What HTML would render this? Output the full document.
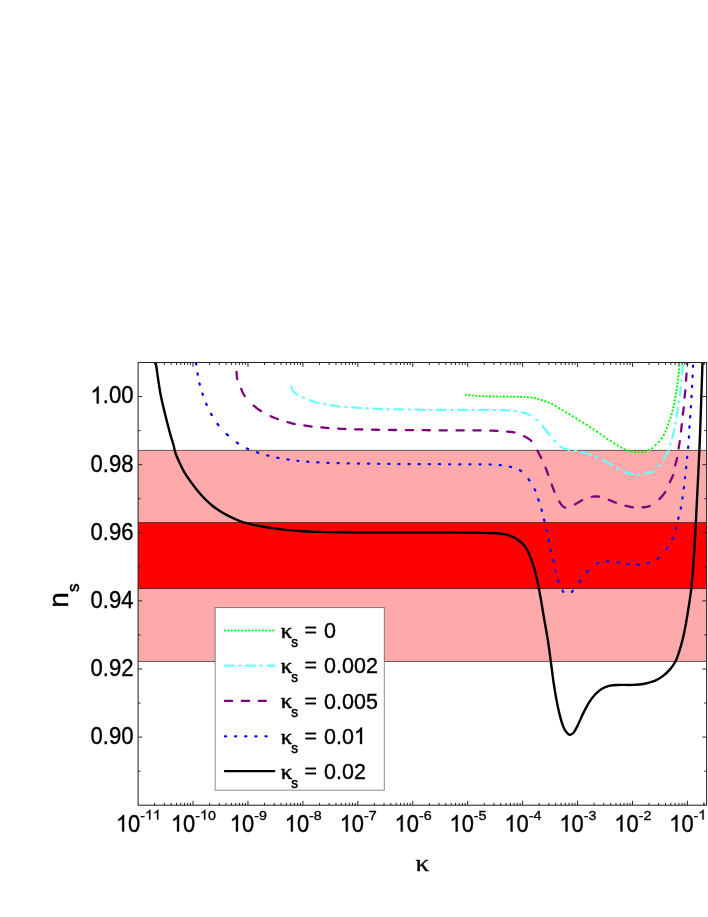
<!DOCTYPE html>
<html><head><meta charset="utf-8"><title>ns vs kappa</title>
<style>
html,body{margin:0;padding:0;background:#fff;}
body{width:708px;height:917px;overflow:hidden;font-family:"Liberation Sans",sans-serif;}
</style></head><body><div style="width:708px;height:917px;will-change:transform;transform:translateZ(0)">
<svg width="708" height="917" viewBox="0 0 708 917" style="display:block">
<rect x="0" y="0" width="708" height="917" fill="#fff"/>
<defs><clipPath id="cp"><rect x="138.10" y="362.50" width="568.50" height="442.70"/></clipPath></defs>
<rect x="138.10" y="450.40" width="568.50" height="211.05" fill="#ffaaaa"/>
<rect x="138.10" y="522.60" width="568.50" height="65.95" fill="#ff0000"/>
<line x1="138.10" y1="450.40" x2="706.60" y2="450.40" stroke="#000" stroke-opacity="0.6" stroke-width="1"/>
<line x1="138.10" y1="661.45" x2="706.60" y2="661.45" stroke="#000" stroke-opacity="0.6" stroke-width="1"/>
<line x1="138.10" y1="522.60" x2="706.60" y2="522.60" stroke="#000" stroke-opacity="0.6" stroke-width="1"/>
<line x1="138.10" y1="588.55" x2="706.60" y2="588.55" stroke="#000" stroke-opacity="0.6" stroke-width="1"/>
<g clip-path="url(#cp)" fill="none" stroke-linecap="round" stroke-linejoin="round">
<path d="M465.85 394.83 L466.00 394.84 M469.30 395.14 L469.45 395.16 M472.75 395.45 L472.90 395.46 M476.20 395.74 L476.21 395.74 L476.35 395.75 M479.65 395.99 L479.77 396.00 L479.80 396.00 M483.10 396.19 L483.20 396.20 L483.25 396.20 M486.55 396.33 L486.61 396.33 L486.70 396.33 M490.00 396.41 L490.15 396.41 M493.45 396.47 L493.60 396.47 M496.90 396.51 L497.05 396.51 M500.35 396.54 L500.50 396.54 M503.80 396.59 L503.95 396.59 M507.25 396.65 L507.40 396.65 M510.70 396.69 L510.85 396.70 M514.15 396.74 L514.30 396.74 M517.60 396.80 L517.70 396.80 L517.75 396.80 M521.05 396.89 L521.20 396.89 M524.50 397.03 L524.60 397.03 L524.65 397.03 M527.95 397.22 L528.10 397.23 M531.40 397.53 L531.55 397.55 M534.85 398.07 L534.89 398.08 L535.00 398.11 M538.30 399.00 L538.30 399.00 L538.45 399.04 M541.75 400.10 L541.80 400.11 L541.90 400.15 M545.20 401.33 L545.35 401.38 M548.65 402.58 L548.80 402.64 M552.10 404.01 L552.25 404.08 M555.55 405.91 L555.70 406.00 M559.00 408.04 L559.10 408.10 L559.15 408.13 M562.45 410.11 L562.60 410.20 M565.90 412.19 L566.05 412.28 M569.35 414.27 L569.49 414.35 L569.50 414.36 M572.80 416.36 L572.95 416.45 M576.25 418.44 L576.40 418.53 M579.70 420.52 L579.85 420.62 M583.15 422.63 L583.30 422.72 M586.60 424.79 L586.75 424.88 M590.05 427.03 L590.20 427.13 M593.50 429.34 L593.65 429.44 M596.95 431.69 L597.10 431.79 M600.40 434.05 L600.47 434.10 L600.55 434.15 M603.85 436.42 L604.00 436.52 M607.30 438.83 L607.45 438.93 M610.75 441.18 L610.90 441.27 M614.20 443.39 L614.35 443.48 M617.65 445.51 L617.80 445.60 M621.10 447.49 L621.25 447.57 M624.55 449.24 L624.70 449.31 M628.00 450.60 L628.15 450.65 M631.45 451.48 L631.60 451.51 M634.90 452.03 L635.05 452.05 M638.35 452.34 L638.50 452.34 M641.80 452.21 L641.95 452.20 M645.25 451.64 L645.40 451.60 M648.70 450.28 L648.85 450.21 M652.15 448.37 L652.22 448.32 L652.30 448.26 M655.56 445.26 L655.63 445.18 L655.70 445.11 M658.86 441.81 L658.93 441.73 L659.00 441.66 M661.60 438.36 L661.70 438.21 M663.77 434.91 L663.85 434.76 M665.49 431.46 L665.52 431.37 L665.55 431.31 M666.83 428.01 L666.88 427.86 M668.02 424.56 L668.07 424.41 M669.23 421.11 L669.29 420.96 M670.47 417.66 L670.52 417.51 M671.54 414.21 L671.58 414.06 M672.45 410.76 L672.48 410.63 L672.49 410.61 M673.27 407.31 L673.31 407.16 M674.04 403.86 L674.07 403.71 M674.73 400.41 L674.74 400.31 L674.75 400.26 M675.35 396.96 L675.35 396.93 L675.38 396.81 M675.93 393.51 L675.95 393.40 L675.96 393.36 M676.48 390.06 L676.51 389.91 M677.00 386.61 L677.02 386.46 M677.47 383.16 L677.49 383.01 M677.89 379.71 L677.91 379.56 M678.28 376.26 L678.30 376.11 M678.65 372.81 L678.67 372.66 M679.01 369.36 L679.03 369.21 M679.33 365.91 L679.34 365.82 L679.34 365.76 M679.60 362.46 L679.62 362.31 M679.90 359.01 L679.91 358.87 L679.91 358.86 M680.20 355.56 L680.21 355.41 M680.49 352.11 L680.50 352.00" stroke="#00ff00" stroke-width="2.1"/>
<path d="M291.34 386.50 L291.38 386.70 L291.47 387.13 L291.57 387.59 L291.69 388.07 L291.83 388.54 L291.99 389.02 L292.16 389.47 L292.37 389.90 L292.60 390.30 L292.86 390.67 L293.14 391.04 L293.45 391.40 L293.77 391.76 L294.12 392.11 L294.49 392.46 L294.87 392.80 L295.27 393.13 L295.68 393.46 L296.11 393.78 L296.55 394.09 L297.00 394.40 L297.31 394.60 M302.91 397.33 L302.99 397.37 L303.50 397.60 L303.97 397.82 L304.11 397.88 M309.71 400.19 L310.37 400.42 L311.21 400.71 L312.10 401.01 L313.03 401.32 L313.97 401.62 L314.91 401.93 L315.84 402.23 L316.74 402.51 L317.59 402.77 L318.39 403.00 L318.51 403.03 M324.11 404.16 L324.11 404.16 L324.55 404.23 L325.00 404.30 L325.31 404.35 M330.91 405.23 L331.49 405.32 L332.27 405.44 L333.09 405.58 L333.94 405.72 L334.82 405.86 L335.72 406.00 L336.64 406.13 L337.56 406.26 L338.48 406.39 L339.40 406.50 L339.71 406.54 M345.31 406.96 L345.90 406.99 L346.51 407.02 M352.11 407.34 L352.38 407.36 L353.25 407.43 L354.10 407.50 L354.94 407.57 L355.78 407.64 L356.61 407.71 L357.44 407.78 L358.28 407.85 L359.12 407.92 L359.97 407.98 L360.83 408.04 L360.91 408.05 M366.51 408.34 L367.20 408.37 L367.71 408.39 M373.31 408.63 L373.58 408.64 L374.44 408.69 L375.29 408.73 L376.13 408.78 L376.97 408.82 L377.80 408.87 L378.63 408.91 L379.47 408.96 L380.31 409.00 L381.16 409.03 L382.02 409.07 L382.11 409.07 M387.71 409.21 L388.40 409.22 L388.91 409.23 M394.51 409.31 L394.74 409.32 L395.52 409.33 L396.25 409.35 L396.95 409.36 L397.65 409.38 L398.36 409.39 L399.11 409.41 L399.91 409.43 L400.80 409.44 L401.77 409.46 L402.87 409.48 L403.31 409.49 M408.91 409.58 L410.11 409.60 M415.71 409.68 L415.92 409.68 L417.83 409.71 L419.75 409.74 L421.65 409.76 L423.50 409.78 L424.51 409.79 M430.11 409.84 L430.58 409.84 L431.31 409.85 M436.91 409.87 L437.60 409.88 L439.36 409.88 L441.11 409.89 L442.87 409.89 L444.63 409.90 L445.71 409.90 M451.31 409.91 L451.71 409.91 L452.51 409.91 M458.11 409.91 L458.82 409.91 L460.60 409.90 L462.38 409.90 L464.15 409.90 L465.93 409.90 L466.91 409.90 M472.51 409.90 L473.25 409.90 L473.71 409.90 M479.31 409.89 L480.79 409.89 L482.59 409.89 L484.32 409.89 L485.96 409.89 L487.49 409.90 L488.11 409.90 M493.71 409.91 L494.25 409.91 L494.91 409.91 M500.51 410.02 L500.79 410.03 L501.70 410.07 L502.62 410.11 L503.54 410.16 L504.45 410.21 L505.35 410.27 L506.23 410.32 L507.09 410.38 L507.91 410.44 L508.69 410.49 L509.31 410.54 M514.91 411.12 L515.06 411.14 L515.50 411.20 L515.95 411.26 L516.11 411.28 M521.71 412.27 L521.80 412.29 L522.59 412.51 L523.44 412.75 L524.34 413.01 L525.27 413.29 L526.22 413.59 L527.16 413.89 L528.09 414.21 L528.99 414.53 L529.83 414.85 L530.51 415.14 M536.11 419.34 L536.17 419.40 L536.60 419.80 L537.04 420.19 L537.31 420.44 M542.57 425.91 L543.03 426.47 L543.64 427.25 L544.27 428.07 L544.92 428.92 L545.57 429.78 L546.22 430.65 L546.86 431.50 L547.49 432.32 L548.09 433.11 L548.67 433.84 L549.20 434.50 L549.37 434.71 M554.38 440.31 L554.63 440.60 L555.06 441.11 L555.37 441.51 M560.42 446.59 L560.45 446.61 L561.16 447.00 L561.92 447.38 L562.71 447.75 L563.54 448.10 L564.37 448.44 L565.20 448.75 L566.03 449.05 L566.83 449.32 L567.60 449.57 L568.33 449.80 L569.00 450.00 L569.22 450.06 M574.82 450.66 L575.10 450.70 L575.59 450.78 L576.02 450.85 M581.62 452.07 L581.66 452.08 L582.38 452.28 L583.14 452.50 L583.94 452.74 L584.76 452.99 L585.59 453.24 L586.42 453.50 L587.24 453.76 L588.04 454.01 L588.81 454.26 L589.53 454.49 L590.20 454.70 L590.42 454.77 M596.02 456.69 L596.30 456.80 L596.79 457.00 L597.22 457.18 M602.82 459.94 L602.86 459.96 L603.58 460.36 L604.34 460.79 L605.14 461.25 L605.96 461.72 L606.79 462.21 L607.62 462.69 L608.44 463.17 L609.24 463.64 L610.01 464.09 L610.73 464.51 L611.40 464.90 L611.62 465.03 M617.22 468.24 L617.50 468.40 L617.99 468.67 L618.42 468.93 M624.02 471.72 L624.10 471.75 L624.87 472.01 L625.69 472.28 L626.56 472.54 L627.46 472.81 L628.37 473.07 L629.28 473.32 L630.17 473.56 L631.03 473.78 L631.85 473.98 L632.61 474.15 L632.82 474.20 M638.42 474.72 L638.45 474.72 L638.90 474.70 L639.35 474.68 L639.62 474.66 M645.22 473.60 L645.89 473.45 L646.74 473.25 L647.64 473.04 L648.57 472.82 L649.52 472.57 L650.47 472.32 L651.40 472.04 L652.29 471.74 L653.13 471.42 L653.91 471.07 L654.02 471.01 M658.79 466.03 L659.06 465.62 L659.42 465.10 L659.62 464.83 M663.66 459.23 L663.80 459.00 L664.19 458.35 L664.60 457.65 L665.03 456.89 L665.48 456.11 L665.93 455.30 L666.38 454.47 L666.83 453.64 L667.26 452.81 L667.66 452.01 L668.05 451.23 L668.39 450.49 L668.42 450.43 M670.16 444.83 L670.20 444.64 L670.32 444.12 L670.45 443.63 M672.25 438.03 L672.40 437.50 L672.57 436.83 L672.76 436.10 L672.95 435.31 L673.15 434.48 L673.35 433.63 L673.55 432.76 L673.75 431.89 L673.94 431.03 L674.12 430.20 L674.30 429.41 L674.34 429.23 M675.38 423.63 L675.44 423.25 L675.52 422.79 L675.58 422.43 M676.55 416.83 L676.60 416.52 L676.70 415.90 L676.81 415.24 L676.92 414.52 L677.04 413.78 L677.16 413.00 L677.29 412.21 L677.41 411.41 L677.54 410.61 L677.66 409.82 L677.78 409.06 L677.89 408.33 L677.94 408.03 M678.83 402.43 L678.86 402.25 L678.93 401.79 L679.00 401.30 L679.01 401.23 M679.82 395.63 L679.90 395.00 L679.98 394.30 L680.06 393.55 L680.15 392.74 L680.24 391.90 L680.32 391.04 L680.41 390.16 L680.50 389.29 L680.59 388.43 L680.67 387.60 L680.75 386.83 M681.43 381.23 L681.44 381.12 L681.49 380.68 L681.55 380.21 L681.56 380.03 M682.05 374.43 L682.08 373.99 L682.14 373.35 L682.20 372.70 L682.26 372.03 L682.33 371.36 L682.40 370.68 L682.48 369.98 L682.55 369.27 L682.63 368.55 L682.71 367.81 L682.79 367.05 L682.87 366.27 L682.93 365.63 M683.40 360.03 L683.43 359.64 L683.49 358.83 M683.91 353.23 L683.96 352.58 L684.00 352.00" stroke="#66ffff" stroke-width="2.2"/>
<path d="M236.57 371.95 L236.60 372.53 L236.64 373.20 L236.68 373.94 L236.74 374.72 L236.80 375.53 L236.88 376.35 L236.98 377.18 L237.09 377.98 L237.23 378.76 L237.32 379.15 M241.17 388.85 L241.41 389.40 L241.70 390.10 L242.00 390.80 L242.30 391.50 L242.61 392.20 L242.94 392.90 L243.29 393.60 L243.66 394.30 L244.07 395.00 L244.51 395.70 L244.76 396.05 M253.71 405.54 L254.34 406.10 L255.00 406.67 L255.67 407.22 L256.33 407.76 L257.00 408.29 L257.67 408.80 L258.34 409.30 L259.02 409.79 L259.71 410.27 L260.40 410.74 L260.91 411.07 M270.61 416.23 L270.62 416.23 L271.33 416.55 L272.05 416.86 L272.76 417.16 L273.46 417.45 L274.17 417.73 L274.87 418.01 L275.58 418.27 L276.28 418.54 L276.99 418.79 L277.69 419.05 L277.81 419.09 M287.51 422.08 L287.59 422.10 L288.27 422.30 L288.94 422.50 L289.61 422.70 L290.28 422.90 L290.95 423.09 L291.62 423.27 L292.29 423.46 L292.96 423.63 L293.63 423.80 L294.31 423.95 L294.71 424.04 M304.41 425.44 L304.90 425.52 L305.60 425.63 L306.30 425.75 L307.00 425.86 L307.70 425.98 L308.40 426.10 L309.10 426.21 L309.80 426.31 L310.50 426.42 L311.20 426.51 L311.61 426.56 M321.31 427.38 L321.82 427.43 L322.52 427.50 L323.23 427.57 L323.94 427.64 L324.65 427.71 L325.36 427.78 L326.07 427.85 L326.77 427.92 L327.48 427.98 L328.19 428.04 L328.51 428.07 M338.21 428.65 L338.70 428.67 L339.32 428.71 L339.93 428.74 L340.54 428.78 L341.14 428.81 L341.75 428.85 L342.37 428.88 L342.99 428.91 L343.64 428.94 L344.31 428.97 L345.00 429.00 L345.41 429.02 M355.11 429.32 L355.11 429.32 L355.77 429.34 L356.39 429.35 L356.99 429.37 L357.58 429.39 L358.18 429.40 L358.81 429.41 L359.48 429.43 L360.21 429.45 L361.01 429.46 L361.90 429.48 L362.31 429.49 M372.01 429.67 L372.35 429.68 L373.88 429.70 L375.40 429.73 L376.90 429.75 L378.38 429.78 L379.21 429.79 M388.91 429.93 L389.30 429.94 L391.21 429.96 L393.55 429.98 L396.11 430.00 M405.81 430.07 L408.86 430.10 L413.01 430.13 M422.71 430.20 L425.11 430.21 L429.91 430.25 M439.61 430.31 L441.65 430.32 L446.63 430.35 L446.81 430.36 M456.51 430.41 L458.34 430.41 L461.34 430.42 L463.71 430.42 M473.41 430.38 L474.30 430.38 L476.00 430.37 L477.67 430.38 L479.36 430.38 L480.61 430.40 M490.31 430.60 L490.56 430.61 L491.91 430.66 L493.20 430.71 L494.44 430.76 L495.61 430.81 L496.73 430.85 L497.51 430.89 M507.21 431.60 L507.56 431.63 L508.30 431.69 L509.05 431.76 L509.80 431.82 L510.56 431.89 L511.31 431.97 L512.06 432.07 L512.81 432.17 L513.55 432.30 L514.28 432.44 L514.41 432.47 M524.11 436.18 L524.63 436.46 L525.37 436.86 L526.12 437.28 L526.87 437.71 L527.61 438.17 L528.35 438.65 L529.07 439.14 L529.77 439.67 L530.45 440.22 L531.09 440.79 L531.31 441.01 M537.36 450.71 L537.70 451.30 L538.07 451.97 L538.44 452.63 L538.79 453.28 L539.13 453.92 L539.46 454.55 L539.79 455.18 L540.11 455.81 L540.43 456.44 L540.75 457.08 L541.07 457.73 L541.16 457.91 M545.53 467.61 L545.77 468.20 L546.04 468.90 L546.31 469.60 L546.57 470.30 L546.83 471.00 L547.09 471.70 L547.35 472.41 L547.61 473.12 L547.87 473.84 L548.13 474.57 L548.22 474.81 M551.70 484.51 L551.96 485.21 L552.22 485.90 L552.46 486.57 L552.71 487.24 L552.95 487.89 L553.19 488.54 L553.44 489.19 L553.69 489.84 L553.95 490.49 L554.22 491.15 L554.46 491.71 M559.24 501.41 L559.34 501.57 L559.67 502.11 L560.00 502.64 L560.33 503.14 L560.66 503.63 L560.98 504.09 L561.31 504.52 L561.64 504.93 L561.97 505.32 L562.31 505.67 L562.65 506.00 L563.00 506.30 L563.35 506.57 L563.69 506.83 L564.02 507.06 L564.35 507.27 L564.69 507.45 L565.03 507.60 L565.24 507.67 M574.94 504.33 L575.00 504.30 L575.67 503.94 L576.35 503.56 L577.04 503.16 L577.74 502.75 L578.45 502.33 L579.16 501.90 L579.88 501.48 L580.59 501.06 L581.30 500.66 L582.01 500.28 L582.14 500.21 M591.84 496.82 L591.99 496.78 L592.42 496.69 L592.82 496.62 L593.19 496.57 L593.52 496.53 L593.84 496.51 L594.14 496.49 L594.44 496.49 L594.73 496.49 L595.04 496.49 L595.36 496.50 L595.70 496.50 L596.04 496.50 L596.36 496.49 L596.67 496.49 L596.97 496.49 L597.28 496.49 L597.59 496.50 L597.91 496.52 L598.26 496.56 L598.63 496.61 L599.04 496.68 M608.74 499.83 L609.10 499.96 L609.81 500.24 L610.52 500.53 L611.23 500.82 L611.93 501.11 L612.64 501.41 L613.35 501.71 L614.06 502.00 L614.77 502.29 L615.48 502.57 L615.94 502.75 M625.64 505.76 L626.12 505.88 L626.87 506.06 L627.63 506.24 L628.40 506.42 L629.16 506.59 L629.92 506.75 L630.67 506.90 L631.39 507.05 L632.08 507.18 L632.74 507.30 L632.84 507.32 M642.54 507.36 L642.86 507.32 L643.47 507.24 L644.13 507.16 L644.82 507.08 L645.54 506.99 L646.29 506.88 L647.05 506.75 L647.81 506.60 L648.58 506.41 L649.33 506.18 L649.74 506.04 M659.44 499.06 L659.91 498.60 L660.50 497.99 L661.08 497.37 L661.64 496.74 L662.19 496.10 L662.73 495.46 L663.24 494.80 L663.74 494.13 L664.23 493.46 L664.70 492.78 L665.16 492.09 L665.30 491.87 M669.85 482.17 L670.02 481.81 L670.35 481.13 L670.67 480.46 L671.00 479.81 L671.32 479.16 L671.64 478.52 L671.95 477.87 L672.24 477.22 L672.53 476.56 L672.80 475.89 L673.06 475.21 L673.14 474.97 M675.21 465.27 L675.37 464.61 L675.53 463.93 L675.71 463.28 L675.88 462.64 L676.06 462.02 L676.23 461.39 L676.40 460.77 L676.57 460.14 L676.74 459.51 L676.90 458.86 L677.05 458.19 L677.08 458.07 M678.60 448.37 L678.72 447.67 L678.84 446.95 L678.96 446.23 L679.08 445.52 L679.20 444.82 L679.33 444.11 L679.45 443.41 L679.56 442.71 L679.68 442.01 L679.79 441.31 L679.81 441.17 M680.99 431.47 L681.00 431.40 L681.08 430.73 L681.16 430.07 L681.23 429.43 L681.31 428.79 L681.38 428.16 L681.46 427.52 L681.53 426.89 L681.60 426.26 L681.68 425.61 L681.75 424.96 L681.83 424.29 L681.83 424.27 M682.82 414.57 L682.88 414.02 L682.96 413.36 L683.05 412.72 L683.14 412.09 L683.22 411.47 L683.31 410.85 L683.40 410.23 L683.49 409.61 L683.57 408.98 L683.65 408.34 L683.73 407.68 L683.76 407.37 M684.54 397.67 L684.57 397.39 L684.64 396.70 L684.72 396.02 L684.80 395.34 L684.88 394.67 L684.96 394.00 L685.04 393.33 L685.11 392.66 L685.19 391.98 L685.27 391.30 L685.33 390.61 L685.35 390.47 M686.02 380.77 L686.05 380.29 L686.10 379.60 L686.15 378.91 L686.20 378.23 L686.24 377.56 L686.29 376.89 L686.34 376.21 L686.39 375.53 L686.44 374.85 L686.49 374.15 L686.54 373.57 M687.25 363.87 L687.30 363.20 L687.36 362.29 L687.42 361.30 L687.49 360.26 L687.56 359.18 L687.63 358.09 L687.69 357.01 L687.71 356.67" stroke="#800080" stroke-width="2.3"/>
<path d="M196.06 363.20 L196.09 363.40 L196.14 363.76 L196.20 364.20 L196.23 364.40 M197.57 373.33 L197.70 374.10 L197.77 374.53 M199.50 383.46 L199.70 384.30 L199.79 384.66 M202.46 393.59 L202.70 394.30 L202.87 394.79 M206.17 403.72 L206.50 404.50 L206.68 404.92 M211.09 413.85 L211.40 414.40 L211.78 415.05 M217.55 423.98 L218.10 424.70 L218.48 425.18 M226.67 434.08 L227.00 434.40 L227.79 435.14 L227.87 435.21 M236.80 442.53 L236.90 442.60 L237.73 443.18 L238.00 443.35 M246.93 448.46 L247.00 448.50 L247.85 448.90 L248.13 449.02 M257.06 452.35 L257.20 452.40 L258.05 452.68 L258.26 452.75 M267.19 455.34 L267.40 455.40 L268.24 455.62 L268.39 455.66 M277.32 457.76 L277.50 457.80 L278.35 457.97 L278.52 458.00 M287.45 459.46 L287.70 459.50 L288.53 459.62 L288.65 459.64 M297.50 460.80 L298.28 460.88 M307.21 461.66 L307.70 461.70 L308.41 461.75 M317.34 462.37 L317.90 462.40 L318.54 462.44 M327.47 462.87 L328.10 462.90 L328.67 462.92 M337.60 463.18 L338.20 463.20 L338.80 463.21 M347.73 463.39 L348.10 463.40 L348.93 463.41 M357.86 463.55 L359.06 463.57 M367.99 463.69 L368.50 463.70 L369.19 463.71 M378.12 463.80 L378.66 463.81 L379.32 463.81 M388.25 463.89 L388.80 463.90 L389.45 463.91 M398.38 464.02 L398.44 464.02 L399.58 464.03 M408.51 464.10 L409.00 464.10 L409.71 464.10 M418.64 464.15 L419.84 464.15 M428.77 464.19 L429.43 464.19 L429.97 464.20 M438.90 464.23 L439.07 464.23 L440.10 464.23 M449.03 464.27 L450.23 464.27 M459.16 464.30 L459.50 464.30 L460.36 464.30 M469.29 464.31 L470.49 464.30 M479.42 464.30 L479.70 464.30 L480.62 464.31 M489.55 464.49 L489.90 464.50 L490.74 464.53 L490.75 464.53 M499.68 465.08 L499.90 465.10 L500.74 465.20 L500.88 465.21 M509.81 466.73 L510.10 466.80 L510.94 467.01 L511.01 467.03 M519.94 470.26 L520.00 470.30 L520.74 470.81 L521.14 471.11 M528.50 479.17 L528.63 479.34 L529.27 480.23 L529.36 480.37 M534.70 489.30 L535.00 489.90 L535.28 490.50 M538.32 499.43 L538.50 500.00 L538.71 500.63 M541.50 509.56 L541.60 509.90 L541.83 510.74 L541.84 510.76 M544.10 519.69 L544.20 520.10 L544.39 520.89 M546.49 529.82 L546.60 530.30 L546.77 531.02 M548.77 539.95 L548.80 540.10 L548.97 540.93 L549.02 541.15 M550.77 550.08 L550.80 550.20 L550.98 551.04 L551.04 551.28 M553.10 560.21 L553.29 561.05 L553.37 561.41 M555.34 570.34 L555.40 570.60 L555.62 571.46 L555.64 571.54 M558.18 580.47 L558.30 580.80 L558.62 581.67 M562.59 590.60 L562.80 591.00 L563.07 591.49 L563.25 591.80 M571.85 591.96 L572.01 591.77 L572.40 591.30 L572.84 590.76 M579.61 581.83 L580.00 581.30 L580.49 580.63 M586.86 571.70 L587.50 571.00 L588.00 570.50 M596.92 563.45 L597.60 563.10 L598.12 562.87 M607.05 561.33 L607.80 561.30 L608.25 561.29 M617.18 562.29 L618.00 562.40 L618.38 562.45 M627.31 563.90 L628.10 564.00 L628.51 564.05 M637.44 564.71 L637.90 564.70 L638.64 564.67 M647.57 563.42 L648.00 563.30 L648.77 563.05 M657.70 558.76 L658.20 558.40 L658.90 557.84 M666.83 549.13 L667.00 548.90 L667.58 548.07 L667.67 547.93 M672.27 539.00 L672.40 538.70 L672.76 537.87 L672.78 537.80 M675.78 528.87 L675.80 528.80 L676.04 527.97 L676.12 527.67 M678.29 518.74 L678.30 518.70 L678.51 517.86 L678.59 517.54 M680.72 508.61 L680.87 507.86 L680.95 507.41 M682.40 498.48 L682.53 497.65 L682.58 497.28 M683.79 488.35 L683.80 488.30 L683.91 487.46 L683.95 487.15 M685.01 478.22 L685.10 477.46 L685.14 477.02 M686.10 468.09 L686.19 467.25 L686.22 466.89 M687.10 457.96 L687.18 457.16 L687.22 456.76 M688.11 447.83 L688.17 447.06 L688.21 446.63 M688.91 437.70 L688.95 436.96 L688.98 436.50 M689.42 427.57 L689.46 426.96 L689.50 426.37 M690.21 417.44 L690.26 416.77 L690.29 416.24 M690.83 407.31 L690.86 406.86 L690.91 406.11 M691.52 397.18 L691.55 396.64 L691.59 395.98 M692.10 387.05 L692.15 386.24 L692.17 385.85 M692.60 376.92 L692.60 376.90 L692.64 376.06 L692.65 375.72 M693.01 366.79 L693.03 366.14 L693.06 365.59" stroke="#0000ff" stroke-width="2.25"/>
<path d="M153.60 350.00 C153.95 352.05 154.48 354.63 155.70 362.30 C156.92 369.97 158.67 384.73 160.90 396.00 C163.13 407.27 167.00 421.73 169.10 429.90 C171.20 438.07 172.42 441.07 173.50 445.00 C174.58 448.93 174.53 450.43 175.60 453.50 C176.67 456.57 178.48 460.35 179.90 463.40 C181.32 466.45 182.22 468.63 184.10 471.80 C185.98 474.97 188.85 479.10 191.20 482.40 C193.55 485.70 195.85 488.77 198.20 491.60 C200.55 494.43 202.93 497.05 205.30 499.40 C207.67 501.75 210.05 503.82 212.40 505.70 C214.75 507.58 217.05 509.17 219.40 510.70 C221.75 512.23 224.13 513.62 226.50 514.90 C228.87 516.18 231.25 517.33 233.60 518.40 C235.95 519.47 238.25 520.47 240.60 521.30 C242.95 522.13 245.35 522.77 247.70 523.40 C250.05 524.03 252.35 524.60 254.70 525.10 C257.05 525.60 259.25 525.97 261.80 526.40 C264.35 526.83 267.00 527.25 270.00 527.70 C273.00 528.15 274.88 528.55 279.80 529.10 C284.72 529.65 292.92 530.53 299.50 531.00 C306.08 531.47 312.70 531.68 319.30 531.90 C325.90 532.12 332.50 532.20 339.10 532.30 C345.70 532.40 348.75 532.46 358.90 532.50 C369.05 532.54 386.48 532.54 400.00 532.55 C413.52 532.56 430.03 532.54 440.00 532.55 C449.97 532.56 453.22 532.56 459.80 532.60 C466.38 532.64 473.90 532.70 479.50 532.80 C485.10 532.90 489.10 532.95 493.40 533.20 C497.70 533.45 502.00 533.63 505.30 534.30 C508.60 534.97 510.90 536.13 513.20 537.20 C515.50 538.27 517.30 539.37 519.10 540.70 C520.90 542.03 522.52 543.45 524.00 545.20 C525.48 546.95 526.90 549.10 528.00 551.20 C529.10 553.30 529.67 555.30 530.60 557.80 C531.53 560.30 532.62 562.98 533.60 566.20 C534.58 569.42 535.67 573.63 536.50 577.10 C537.33 580.57 537.88 583.37 538.60 587.00 C539.32 590.63 539.93 593.95 540.80 598.90 C541.67 603.85 542.63 609.88 543.80 616.70 C544.97 623.52 546.63 632.33 547.80 639.80 C548.97 647.27 549.82 654.25 550.80 661.50 C551.78 668.75 552.72 676.70 553.70 683.30 C554.68 689.90 555.70 695.83 556.70 701.10 C557.70 706.37 558.72 710.95 559.70 714.90 C560.68 718.85 561.62 722.10 562.60 724.80 C563.58 727.50 564.45 729.45 565.60 731.10 C566.75 732.75 568.18 734.43 569.50 734.70 C570.82 734.97 572.17 734.18 573.50 732.70 C574.83 731.22 575.85 729.10 577.50 725.80 C579.15 722.50 581.43 716.85 583.40 712.90 C585.37 708.95 587.32 705.22 589.30 702.10 C591.28 698.98 593.32 696.35 595.30 694.20 C597.28 692.05 598.90 690.60 601.20 689.20 C603.50 687.80 606.13 686.52 609.10 685.80 C612.07 685.08 615.05 685.05 619.00 684.90 C622.95 684.75 628.52 685.10 632.80 684.90 C637.08 684.70 641.07 684.37 644.70 683.70 C648.33 683.03 651.63 682.12 654.60 680.90 C657.57 679.68 659.93 678.32 662.50 676.40 C665.07 674.48 667.85 671.88 670.00 669.40 C672.15 666.92 673.87 664.47 675.40 661.50 C676.93 658.53 677.93 655.53 679.20 651.60 C680.47 647.67 681.85 642.73 683.00 637.90 C684.15 633.07 685.08 628.20 686.10 622.60 C687.12 617.00 688.22 610.15 689.10 604.30 C689.98 598.45 690.63 594.88 691.40 587.50 C692.17 580.12 693.03 569.30 693.70 560.00 C694.37 550.70 694.83 542.13 695.40 531.70 C695.97 521.27 696.43 510.93 697.10 497.40 C697.77 483.87 698.85 462.80 699.40 450.50 C699.95 438.20 700.08 432.33 700.40 423.60 C700.72 414.87 700.95 408.28 701.30 398.10 C701.65 387.92 702.23 370.52 702.50 362.50 C702.77 354.48 702.83 352.08 702.90 350.00" stroke="#000" stroke-width="2.4"/>
</g>
<g stroke="#262626" stroke-width="1" fill="none">
<line x1="154.64" y1="805.20" x2="154.64" y2="802.80"/>
<line x1="154.64" y1="362.50" x2="154.64" y2="364.90"/>
<line x1="164.31" y1="805.20" x2="164.31" y2="802.80"/>
<line x1="164.31" y1="362.50" x2="164.31" y2="364.90"/>
<line x1="171.17" y1="805.20" x2="171.17" y2="802.80"/>
<line x1="171.17" y1="362.50" x2="171.17" y2="364.90"/>
<line x1="176.49" y1="805.20" x2="176.49" y2="802.80"/>
<line x1="176.49" y1="362.50" x2="176.49" y2="364.90"/>
<line x1="180.84" y1="805.20" x2="180.84" y2="802.80"/>
<line x1="180.84" y1="362.50" x2="180.84" y2="364.90"/>
<line x1="184.52" y1="805.20" x2="184.52" y2="802.80"/>
<line x1="184.52" y1="362.50" x2="184.52" y2="364.90"/>
<line x1="187.71" y1="805.20" x2="187.71" y2="802.80"/>
<line x1="187.71" y1="362.50" x2="187.71" y2="364.90"/>
<line x1="190.52" y1="805.20" x2="190.52" y2="802.80"/>
<line x1="190.52" y1="362.50" x2="190.52" y2="364.90"/>
<line x1="193.03" y1="805.20" x2="193.03" y2="800.80"/>
<line x1="193.03" y1="362.50" x2="193.03" y2="366.90"/>
<line x1="209.57" y1="805.20" x2="209.57" y2="802.80"/>
<line x1="209.57" y1="362.50" x2="209.57" y2="364.90"/>
<line x1="219.24" y1="805.20" x2="219.24" y2="802.80"/>
<line x1="219.24" y1="362.50" x2="219.24" y2="364.90"/>
<line x1="226.10" y1="805.20" x2="226.10" y2="802.80"/>
<line x1="226.10" y1="362.50" x2="226.10" y2="364.90"/>
<line x1="231.42" y1="805.20" x2="231.42" y2="802.80"/>
<line x1="231.42" y1="362.50" x2="231.42" y2="364.90"/>
<line x1="235.77" y1="805.20" x2="235.77" y2="802.80"/>
<line x1="235.77" y1="362.50" x2="235.77" y2="364.90"/>
<line x1="239.45" y1="805.20" x2="239.45" y2="802.80"/>
<line x1="239.45" y1="362.50" x2="239.45" y2="364.90"/>
<line x1="242.64" y1="805.20" x2="242.64" y2="802.80"/>
<line x1="242.64" y1="362.50" x2="242.64" y2="364.90"/>
<line x1="245.45" y1="805.20" x2="245.45" y2="802.80"/>
<line x1="245.45" y1="362.50" x2="245.45" y2="364.90"/>
<line x1="247.96" y1="805.20" x2="247.96" y2="800.80"/>
<line x1="247.96" y1="362.50" x2="247.96" y2="366.90"/>
<line x1="264.50" y1="805.20" x2="264.50" y2="802.80"/>
<line x1="264.50" y1="362.50" x2="264.50" y2="364.90"/>
<line x1="274.17" y1="805.20" x2="274.17" y2="802.80"/>
<line x1="274.17" y1="362.50" x2="274.17" y2="364.90"/>
<line x1="281.03" y1="805.20" x2="281.03" y2="802.80"/>
<line x1="281.03" y1="362.50" x2="281.03" y2="364.90"/>
<line x1="286.35" y1="805.20" x2="286.35" y2="802.80"/>
<line x1="286.35" y1="362.50" x2="286.35" y2="364.90"/>
<line x1="290.70" y1="805.20" x2="290.70" y2="802.80"/>
<line x1="290.70" y1="362.50" x2="290.70" y2="364.90"/>
<line x1="294.38" y1="805.20" x2="294.38" y2="802.80"/>
<line x1="294.38" y1="362.50" x2="294.38" y2="364.90"/>
<line x1="297.57" y1="805.20" x2="297.57" y2="802.80"/>
<line x1="297.57" y1="362.50" x2="297.57" y2="364.90"/>
<line x1="300.38" y1="805.20" x2="300.38" y2="802.80"/>
<line x1="300.38" y1="362.50" x2="300.38" y2="364.90"/>
<line x1="302.89" y1="805.20" x2="302.89" y2="800.80"/>
<line x1="302.89" y1="362.50" x2="302.89" y2="366.90"/>
<line x1="319.43" y1="805.20" x2="319.43" y2="802.80"/>
<line x1="319.43" y1="362.50" x2="319.43" y2="364.90"/>
<line x1="329.10" y1="805.20" x2="329.10" y2="802.80"/>
<line x1="329.10" y1="362.50" x2="329.10" y2="364.90"/>
<line x1="335.96" y1="805.20" x2="335.96" y2="802.80"/>
<line x1="335.96" y1="362.50" x2="335.96" y2="364.90"/>
<line x1="341.28" y1="805.20" x2="341.28" y2="802.80"/>
<line x1="341.28" y1="362.50" x2="341.28" y2="364.90"/>
<line x1="345.63" y1="805.20" x2="345.63" y2="802.80"/>
<line x1="345.63" y1="362.50" x2="345.63" y2="364.90"/>
<line x1="349.31" y1="805.20" x2="349.31" y2="802.80"/>
<line x1="349.31" y1="362.50" x2="349.31" y2="364.90"/>
<line x1="352.50" y1="805.20" x2="352.50" y2="802.80"/>
<line x1="352.50" y1="362.50" x2="352.50" y2="364.90"/>
<line x1="355.31" y1="805.20" x2="355.31" y2="802.80"/>
<line x1="355.31" y1="362.50" x2="355.31" y2="364.90"/>
<line x1="357.82" y1="805.20" x2="357.82" y2="800.80"/>
<line x1="357.82" y1="362.50" x2="357.82" y2="366.90"/>
<line x1="374.36" y1="805.20" x2="374.36" y2="802.80"/>
<line x1="374.36" y1="362.50" x2="374.36" y2="364.90"/>
<line x1="384.03" y1="805.20" x2="384.03" y2="802.80"/>
<line x1="384.03" y1="362.50" x2="384.03" y2="364.90"/>
<line x1="390.89" y1="805.20" x2="390.89" y2="802.80"/>
<line x1="390.89" y1="362.50" x2="390.89" y2="364.90"/>
<line x1="396.21" y1="805.20" x2="396.21" y2="802.80"/>
<line x1="396.21" y1="362.50" x2="396.21" y2="364.90"/>
<line x1="400.56" y1="805.20" x2="400.56" y2="802.80"/>
<line x1="400.56" y1="362.50" x2="400.56" y2="364.90"/>
<line x1="404.24" y1="805.20" x2="404.24" y2="802.80"/>
<line x1="404.24" y1="362.50" x2="404.24" y2="364.90"/>
<line x1="407.43" y1="805.20" x2="407.43" y2="802.80"/>
<line x1="407.43" y1="362.50" x2="407.43" y2="364.90"/>
<line x1="410.24" y1="805.20" x2="410.24" y2="802.80"/>
<line x1="410.24" y1="362.50" x2="410.24" y2="364.90"/>
<line x1="412.75" y1="805.20" x2="412.75" y2="800.80"/>
<line x1="412.75" y1="362.50" x2="412.75" y2="366.90"/>
<line x1="429.29" y1="805.20" x2="429.29" y2="802.80"/>
<line x1="429.29" y1="362.50" x2="429.29" y2="364.90"/>
<line x1="438.96" y1="805.20" x2="438.96" y2="802.80"/>
<line x1="438.96" y1="362.50" x2="438.96" y2="364.90"/>
<line x1="445.82" y1="805.20" x2="445.82" y2="802.80"/>
<line x1="445.82" y1="362.50" x2="445.82" y2="364.90"/>
<line x1="451.14" y1="805.20" x2="451.14" y2="802.80"/>
<line x1="451.14" y1="362.50" x2="451.14" y2="364.90"/>
<line x1="455.49" y1="805.20" x2="455.49" y2="802.80"/>
<line x1="455.49" y1="362.50" x2="455.49" y2="364.90"/>
<line x1="459.17" y1="805.20" x2="459.17" y2="802.80"/>
<line x1="459.17" y1="362.50" x2="459.17" y2="364.90"/>
<line x1="462.36" y1="805.20" x2="462.36" y2="802.80"/>
<line x1="462.36" y1="362.50" x2="462.36" y2="364.90"/>
<line x1="465.17" y1="805.20" x2="465.17" y2="802.80"/>
<line x1="465.17" y1="362.50" x2="465.17" y2="364.90"/>
<line x1="467.68" y1="805.20" x2="467.68" y2="800.80"/>
<line x1="467.68" y1="362.50" x2="467.68" y2="366.90"/>
<line x1="484.22" y1="805.20" x2="484.22" y2="802.80"/>
<line x1="484.22" y1="362.50" x2="484.22" y2="364.90"/>
<line x1="493.89" y1="805.20" x2="493.89" y2="802.80"/>
<line x1="493.89" y1="362.50" x2="493.89" y2="364.90"/>
<line x1="500.75" y1="805.20" x2="500.75" y2="802.80"/>
<line x1="500.75" y1="362.50" x2="500.75" y2="364.90"/>
<line x1="506.07" y1="805.20" x2="506.07" y2="802.80"/>
<line x1="506.07" y1="362.50" x2="506.07" y2="364.90"/>
<line x1="510.42" y1="805.20" x2="510.42" y2="802.80"/>
<line x1="510.42" y1="362.50" x2="510.42" y2="364.90"/>
<line x1="514.10" y1="805.20" x2="514.10" y2="802.80"/>
<line x1="514.10" y1="362.50" x2="514.10" y2="364.90"/>
<line x1="517.29" y1="805.20" x2="517.29" y2="802.80"/>
<line x1="517.29" y1="362.50" x2="517.29" y2="364.90"/>
<line x1="520.10" y1="805.20" x2="520.10" y2="802.80"/>
<line x1="520.10" y1="362.50" x2="520.10" y2="364.90"/>
<line x1="522.61" y1="805.20" x2="522.61" y2="800.80"/>
<line x1="522.61" y1="362.50" x2="522.61" y2="366.90"/>
<line x1="539.15" y1="805.20" x2="539.15" y2="802.80"/>
<line x1="539.15" y1="362.50" x2="539.15" y2="364.90"/>
<line x1="548.82" y1="805.20" x2="548.82" y2="802.80"/>
<line x1="548.82" y1="362.50" x2="548.82" y2="364.90"/>
<line x1="555.68" y1="805.20" x2="555.68" y2="802.80"/>
<line x1="555.68" y1="362.50" x2="555.68" y2="364.90"/>
<line x1="561.00" y1="805.20" x2="561.00" y2="802.80"/>
<line x1="561.00" y1="362.50" x2="561.00" y2="364.90"/>
<line x1="565.35" y1="805.20" x2="565.35" y2="802.80"/>
<line x1="565.35" y1="362.50" x2="565.35" y2="364.90"/>
<line x1="569.03" y1="805.20" x2="569.03" y2="802.80"/>
<line x1="569.03" y1="362.50" x2="569.03" y2="364.90"/>
<line x1="572.22" y1="805.20" x2="572.22" y2="802.80"/>
<line x1="572.22" y1="362.50" x2="572.22" y2="364.90"/>
<line x1="575.03" y1="805.20" x2="575.03" y2="802.80"/>
<line x1="575.03" y1="362.50" x2="575.03" y2="364.90"/>
<line x1="577.54" y1="805.20" x2="577.54" y2="800.80"/>
<line x1="577.54" y1="362.50" x2="577.54" y2="366.90"/>
<line x1="594.08" y1="805.20" x2="594.08" y2="802.80"/>
<line x1="594.08" y1="362.50" x2="594.08" y2="364.90"/>
<line x1="603.75" y1="805.20" x2="603.75" y2="802.80"/>
<line x1="603.75" y1="362.50" x2="603.75" y2="364.90"/>
<line x1="610.61" y1="805.20" x2="610.61" y2="802.80"/>
<line x1="610.61" y1="362.50" x2="610.61" y2="364.90"/>
<line x1="615.93" y1="805.20" x2="615.93" y2="802.80"/>
<line x1="615.93" y1="362.50" x2="615.93" y2="364.90"/>
<line x1="620.28" y1="805.20" x2="620.28" y2="802.80"/>
<line x1="620.28" y1="362.50" x2="620.28" y2="364.90"/>
<line x1="623.96" y1="805.20" x2="623.96" y2="802.80"/>
<line x1="623.96" y1="362.50" x2="623.96" y2="364.90"/>
<line x1="627.15" y1="805.20" x2="627.15" y2="802.80"/>
<line x1="627.15" y1="362.50" x2="627.15" y2="364.90"/>
<line x1="629.96" y1="805.20" x2="629.96" y2="802.80"/>
<line x1="629.96" y1="362.50" x2="629.96" y2="364.90"/>
<line x1="632.47" y1="805.20" x2="632.47" y2="800.80"/>
<line x1="632.47" y1="362.50" x2="632.47" y2="366.90"/>
<line x1="649.01" y1="805.20" x2="649.01" y2="802.80"/>
<line x1="649.01" y1="362.50" x2="649.01" y2="364.90"/>
<line x1="658.68" y1="805.20" x2="658.68" y2="802.80"/>
<line x1="658.68" y1="362.50" x2="658.68" y2="364.90"/>
<line x1="665.54" y1="805.20" x2="665.54" y2="802.80"/>
<line x1="665.54" y1="362.50" x2="665.54" y2="364.90"/>
<line x1="670.86" y1="805.20" x2="670.86" y2="802.80"/>
<line x1="670.86" y1="362.50" x2="670.86" y2="364.90"/>
<line x1="675.21" y1="805.20" x2="675.21" y2="802.80"/>
<line x1="675.21" y1="362.50" x2="675.21" y2="364.90"/>
<line x1="678.89" y1="805.20" x2="678.89" y2="802.80"/>
<line x1="678.89" y1="362.50" x2="678.89" y2="364.90"/>
<line x1="682.08" y1="805.20" x2="682.08" y2="802.80"/>
<line x1="682.08" y1="362.50" x2="682.08" y2="364.90"/>
<line x1="684.89" y1="805.20" x2="684.89" y2="802.80"/>
<line x1="684.89" y1="362.50" x2="684.89" y2="364.90"/>
<line x1="687.40" y1="805.20" x2="687.40" y2="800.80"/>
<line x1="687.40" y1="362.50" x2="687.40" y2="366.90"/>
<line x1="703.94" y1="805.20" x2="703.94" y2="802.80"/>
<line x1="703.94" y1="362.50" x2="703.94" y2="364.90"/>
<line x1="703.94" y1="805.20" x2="703.94" y2="802.80"/>
<line x1="703.94" y1="362.50" x2="703.94" y2="364.90"/>
<line x1="138.10" y1="771.15" x2="140.50" y2="771.15"/>
<line x1="706.60" y1="771.15" x2="704.20" y2="771.15"/>
<line x1="138.10" y1="737.09" x2="142.30" y2="737.09"/>
<line x1="706.60" y1="737.09" x2="702.40" y2="737.09"/>
<line x1="138.10" y1="703.04" x2="140.50" y2="703.04"/>
<line x1="706.60" y1="703.04" x2="704.20" y2="703.04"/>
<line x1="138.10" y1="668.98" x2="142.30" y2="668.98"/>
<line x1="706.60" y1="668.98" x2="702.40" y2="668.98"/>
<line x1="138.10" y1="634.93" x2="140.50" y2="634.93"/>
<line x1="706.60" y1="634.93" x2="704.20" y2="634.93"/>
<line x1="138.10" y1="600.88" x2="142.30" y2="600.88"/>
<line x1="706.60" y1="600.88" x2="702.40" y2="600.88"/>
<line x1="138.10" y1="566.82" x2="140.50" y2="566.82"/>
<line x1="706.60" y1="566.82" x2="704.20" y2="566.82"/>
<line x1="138.10" y1="532.77" x2="142.30" y2="532.77"/>
<line x1="706.60" y1="532.77" x2="702.40" y2="532.77"/>
<line x1="138.10" y1="498.72" x2="140.50" y2="498.72"/>
<line x1="706.60" y1="498.72" x2="704.20" y2="498.72"/>
<line x1="138.10" y1="464.66" x2="142.30" y2="464.66"/>
<line x1="706.60" y1="464.66" x2="702.40" y2="464.66"/>
<line x1="138.10" y1="430.61" x2="140.50" y2="430.61"/>
<line x1="706.60" y1="430.61" x2="704.20" y2="430.61"/>
<line x1="138.10" y1="396.55" x2="142.30" y2="396.55"/>
<line x1="706.60" y1="396.55" x2="702.40" y2="396.55"/>
</g>
<rect x="138.10" y="362.50" width="568.50" height="442.70" fill="none" stroke="#262626" stroke-width="1.05"/>
<path transform="translate(90.47,403.45) scale(0.01079,-0.01144)" d="M763 0H583V1147Q518 1085 412.5 1023T223 930V1104Q374 1175 487 1276T647 1472H763Z" fill="#000" stroke="#000" stroke-width="32.4"/>
<text transform="translate(102.76,403.45) scale(1.000,1.060)" font-family="Liberation Sans, sans-serif" font-size="22.10" text-anchor="start" fill="#000" stroke="#000" stroke-width="0.35">.00</text>
<text transform="translate(90.47,471.56) scale(1.000,1.060)" font-family="Liberation Sans, sans-serif" font-size="22.10" text-anchor="start" fill="#000" stroke="#000" stroke-width="0.35">0.98</text>
<text transform="translate(90.47,539.67) scale(1.000,1.060)" font-family="Liberation Sans, sans-serif" font-size="22.10" text-anchor="start" fill="#000" stroke="#000" stroke-width="0.35">0.96</text>
<text transform="translate(90.47,607.78) scale(1.000,1.060)" font-family="Liberation Sans, sans-serif" font-size="22.10" text-anchor="start" fill="#000" stroke="#000" stroke-width="0.35">0.94</text>
<text transform="translate(90.47,675.88) scale(1.000,1.060)" font-family="Liberation Sans, sans-serif" font-size="22.10" text-anchor="start" fill="#000" stroke="#000" stroke-width="0.35">0.92</text>
<text transform="translate(90.47,743.99) scale(1.000,1.060)" font-family="Liberation Sans, sans-serif" font-size="22.10" text-anchor="start" fill="#000" stroke="#000" stroke-width="0.35">0.90</text>
<path transform="translate(115.93,831.60) scale(0.01069,-0.01133)" d="M763 0H583V1147Q518 1085 412.5 1023T223 930V1104Q374 1175 487 1276T647 1472H763Z" fill="#000" stroke="#000" stroke-width="32.7"/>
<text transform="translate(128.12,831.60) scale(1.000,1.060)" font-family="Liberation Sans, sans-serif" font-size="21.90" text-anchor="start" fill="#000" stroke="#000" stroke-width="0.35">0</text>
<text transform="translate(140.30,819.60) scale(1.000,0.950)" font-family="Liberation Sans, sans-serif" font-size="14.30" text-anchor="start" fill="#000" stroke="#000" stroke-width="0.35">-</text>
<path transform="translate(145.06,819.60) scale(0.00698,-0.00663)" d="M763 0H583V1147Q518 1085 412.5 1023T223 930V1104Q374 1175 487 1276T647 1472H763Z" fill="#000" stroke="#000" stroke-width="50.1"/>
<path transform="translate(153.01,819.60) scale(0.00698,-0.00663)" d="M763 0H583V1147Q518 1085 412.5 1023T223 930V1104Q374 1175 487 1276T647 1472H763Z" fill="#000" stroke="#000" stroke-width="50.1"/>
<path transform="translate(170.86,831.60) scale(0.01069,-0.01133)" d="M763 0H583V1147Q518 1085 412.5 1023T223 930V1104Q374 1175 487 1276T647 1472H763Z" fill="#000" stroke="#000" stroke-width="32.7"/>
<text transform="translate(183.05,831.60) scale(1.000,1.060)" font-family="Liberation Sans, sans-serif" font-size="21.90" text-anchor="start" fill="#000" stroke="#000" stroke-width="0.35">0</text>
<text transform="translate(195.23,819.60) scale(1.000,0.950)" font-family="Liberation Sans, sans-serif" font-size="14.30" text-anchor="start" fill="#000" stroke="#000" stroke-width="0.35">-</text>
<path transform="translate(199.99,819.60) scale(0.00698,-0.00663)" d="M763 0H583V1147Q518 1085 412.5 1023T223 930V1104Q374 1175 487 1276T647 1472H763Z" fill="#000" stroke="#000" stroke-width="50.1"/>
<text transform="translate(207.94,819.60) scale(1.000,0.950)" font-family="Liberation Sans, sans-serif" font-size="14.30" text-anchor="start" fill="#000" stroke="#000" stroke-width="0.35">0</text>
<path transform="translate(229.77,831.60) scale(0.01069,-0.01133)" d="M763 0H583V1147Q518 1085 412.5 1023T223 930V1104Q374 1175 487 1276T647 1472H763Z" fill="#000" stroke="#000" stroke-width="32.7"/>
<text transform="translate(241.95,831.60) scale(1.000,1.060)" font-family="Liberation Sans, sans-serif" font-size="21.90" text-anchor="start" fill="#000" stroke="#000" stroke-width="0.35">0</text>
<text transform="translate(254.13,819.60) scale(1.000,0.950)" font-family="Liberation Sans, sans-serif" font-size="14.30" text-anchor="start" fill="#000" stroke="#000" stroke-width="0.35">-9</text>
<path transform="translate(284.70,831.60) scale(0.01069,-0.01133)" d="M763 0H583V1147Q518 1085 412.5 1023T223 930V1104Q374 1175 487 1276T647 1472H763Z" fill="#000" stroke="#000" stroke-width="32.7"/>
<text transform="translate(296.88,831.60) scale(1.000,1.060)" font-family="Liberation Sans, sans-serif" font-size="21.90" text-anchor="start" fill="#000" stroke="#000" stroke-width="0.35">0</text>
<text transform="translate(309.06,819.60) scale(1.000,0.950)" font-family="Liberation Sans, sans-serif" font-size="14.30" text-anchor="start" fill="#000" stroke="#000" stroke-width="0.35">-8</text>
<path transform="translate(339.63,831.60) scale(0.01069,-0.01133)" d="M763 0H583V1147Q518 1085 412.5 1023T223 930V1104Q374 1175 487 1276T647 1472H763Z" fill="#000" stroke="#000" stroke-width="32.7"/>
<text transform="translate(351.81,831.60) scale(1.000,1.060)" font-family="Liberation Sans, sans-serif" font-size="21.90" text-anchor="start" fill="#000" stroke="#000" stroke-width="0.35">0</text>
<text transform="translate(363.99,819.60) scale(1.000,0.950)" font-family="Liberation Sans, sans-serif" font-size="14.30" text-anchor="start" fill="#000" stroke="#000" stroke-width="0.35">-7</text>
<path transform="translate(394.56,831.60) scale(0.01069,-0.01133)" d="M763 0H583V1147Q518 1085 412.5 1023T223 930V1104Q374 1175 487 1276T647 1472H763Z" fill="#000" stroke="#000" stroke-width="32.7"/>
<text transform="translate(406.74,831.60) scale(1.000,1.060)" font-family="Liberation Sans, sans-serif" font-size="21.90" text-anchor="start" fill="#000" stroke="#000" stroke-width="0.35">0</text>
<text transform="translate(418.92,819.60) scale(1.000,0.950)" font-family="Liberation Sans, sans-serif" font-size="14.30" text-anchor="start" fill="#000" stroke="#000" stroke-width="0.35">-6</text>
<path transform="translate(449.49,831.60) scale(0.01069,-0.01133)" d="M763 0H583V1147Q518 1085 412.5 1023T223 930V1104Q374 1175 487 1276T647 1472H763Z" fill="#000" stroke="#000" stroke-width="32.7"/>
<text transform="translate(461.67,831.60) scale(1.000,1.060)" font-family="Liberation Sans, sans-serif" font-size="21.90" text-anchor="start" fill="#000" stroke="#000" stroke-width="0.35">0</text>
<text transform="translate(473.85,819.60) scale(1.000,0.950)" font-family="Liberation Sans, sans-serif" font-size="14.30" text-anchor="start" fill="#000" stroke="#000" stroke-width="0.35">-5</text>
<path transform="translate(504.42,831.60) scale(0.01069,-0.01133)" d="M763 0H583V1147Q518 1085 412.5 1023T223 930V1104Q374 1175 487 1276T647 1472H763Z" fill="#000" stroke="#000" stroke-width="32.7"/>
<text transform="translate(516.60,831.60) scale(1.000,1.060)" font-family="Liberation Sans, sans-serif" font-size="21.90" text-anchor="start" fill="#000" stroke="#000" stroke-width="0.35">0</text>
<text transform="translate(528.78,819.60) scale(1.000,0.950)" font-family="Liberation Sans, sans-serif" font-size="14.30" text-anchor="start" fill="#000" stroke="#000" stroke-width="0.35">-4</text>
<path transform="translate(559.35,831.60) scale(0.01069,-0.01133)" d="M763 0H583V1147Q518 1085 412.5 1023T223 930V1104Q374 1175 487 1276T647 1472H763Z" fill="#000" stroke="#000" stroke-width="32.7"/>
<text transform="translate(571.53,831.60) scale(1.000,1.060)" font-family="Liberation Sans, sans-serif" font-size="21.90" text-anchor="start" fill="#000" stroke="#000" stroke-width="0.35">0</text>
<text transform="translate(583.71,819.60) scale(1.000,0.950)" font-family="Liberation Sans, sans-serif" font-size="14.30" text-anchor="start" fill="#000" stroke="#000" stroke-width="0.35">-3</text>
<path transform="translate(614.28,831.60) scale(0.01069,-0.01133)" d="M763 0H583V1147Q518 1085 412.5 1023T223 930V1104Q374 1175 487 1276T647 1472H763Z" fill="#000" stroke="#000" stroke-width="32.7"/>
<text transform="translate(626.46,831.60) scale(1.000,1.060)" font-family="Liberation Sans, sans-serif" font-size="21.90" text-anchor="start" fill="#000" stroke="#000" stroke-width="0.35">0</text>
<text transform="translate(638.64,819.60) scale(1.000,0.950)" font-family="Liberation Sans, sans-serif" font-size="14.30" text-anchor="start" fill="#000" stroke="#000" stroke-width="0.35">-2</text>
<path transform="translate(669.21,831.60) scale(0.01069,-0.01133)" d="M763 0H583V1147Q518 1085 412.5 1023T223 930V1104Q374 1175 487 1276T647 1472H763Z" fill="#000" stroke="#000" stroke-width="32.7"/>
<text transform="translate(681.39,831.60) scale(1.000,1.060)" font-family="Liberation Sans, sans-serif" font-size="21.90" text-anchor="start" fill="#000" stroke="#000" stroke-width="0.35">0</text>
<text transform="translate(693.57,819.60) scale(1.000,0.950)" font-family="Liberation Sans, sans-serif" font-size="14.30" text-anchor="start" fill="#000" stroke="#000" stroke-width="0.35">-</text>
<path transform="translate(698.33,819.60) scale(0.00698,-0.00663)" d="M763 0H583V1147Q518 1085 412.5 1023T223 930V1104Q374 1175 487 1276T647 1472H763Z" fill="#000" stroke="#000" stroke-width="50.1"/>
<text transform="translate(422.30,871.20) scale(1.130,1.000)" font-family="Liberation Serif, serif" font-size="24.00" text-anchor="middle" fill="#000" stroke="#000" stroke-width="0.35">κ</text>
<g transform="translate(67.5,607.7) rotate(-90)"><text x="0" y="0" font-family="Liberation Sans, sans-serif" font-size="28" stroke="#000" stroke-width="0.4">n<tspan font-size="17" dy="11.6" stroke-width="0.5">s</tspan></text></g>
<rect x="215.20" y="607.60" width="169.10" height="182.60" fill="#fff" stroke="#000" stroke-opacity="0.45" stroke-width="1"/>
<line x1="224.85" y1="630.50" x2="273.25" y2="630.50" stroke="#00ff00" stroke-width="2.1" stroke-linecap="round" stroke-dasharray="0.15 3.30"/>
<text transform="translate(280.80,637.80) scale(1.110,1.000)" font-family="Liberation Serif, serif" font-size="20.50" text-anchor="start" fill="#000" stroke="#000" stroke-width="0.45">κ</text>
<text transform="translate(291.20,646.80) scale(1.000,1.060)" font-family="Liberation Sans, sans-serif" font-size="13.50" text-anchor="start" fill="#000" stroke="#000" stroke-width="0.50">s</text>
<text transform="translate(304.60,637.10) scale(1.000,0.900)" font-family="Liberation Sans, sans-serif" font-size="21.50" text-anchor="start" fill="#000" stroke="#000" stroke-width="0.35">=</text>
<text transform="translate(324.10,638.10) scale(1.000,1.060)" font-family="Liberation Sans, sans-serif" font-size="21.50" text-anchor="start" fill="#000" stroke="#000" stroke-width="0.35">0</text>
<line x1="224.90" y1="665.70" x2="274.20" y2="665.70" stroke="#66ffff" stroke-width="2.2" stroke-linecap="round" stroke-dasharray="8.8 5.6 1.2 5.6"/>
<text transform="translate(280.80,673.00) scale(1.110,1.000)" font-family="Liberation Serif, serif" font-size="20.50" text-anchor="start" fill="#000" stroke="#000" stroke-width="0.45">κ</text>
<text transform="translate(291.20,682.00) scale(1.000,1.060)" font-family="Liberation Sans, sans-serif" font-size="13.50" text-anchor="start" fill="#000" stroke="#000" stroke-width="0.50">s</text>
<text transform="translate(304.60,672.30) scale(1.000,0.900)" font-family="Liberation Sans, sans-serif" font-size="21.50" text-anchor="start" fill="#000" stroke="#000" stroke-width="0.35">=</text>
<text transform="translate(324.10,673.30) scale(1.000,1.060)" font-family="Liberation Sans, sans-serif" font-size="21.50" text-anchor="start" fill="#000" stroke="#000" stroke-width="0.35">0.002</text>
<line x1="224.95" y1="700.90" x2="265.85" y2="700.90" stroke="#800080" stroke-width="2.3" stroke-linecap="round" stroke-dasharray="7.2 9.7"/>
<text transform="translate(280.80,708.20) scale(1.110,1.000)" font-family="Liberation Serif, serif" font-size="20.50" text-anchor="start" fill="#000" stroke="#000" stroke-width="0.45">κ</text>
<text transform="translate(291.20,717.20) scale(1.000,1.060)" font-family="Liberation Sans, sans-serif" font-size="13.50" text-anchor="start" fill="#000" stroke="#000" stroke-width="0.50">s</text>
<text transform="translate(304.60,707.50) scale(1.000,0.900)" font-family="Liberation Sans, sans-serif" font-size="21.50" text-anchor="start" fill="#000" stroke="#000" stroke-width="0.35">=</text>
<text transform="translate(324.10,708.50) scale(1.000,1.060)" font-family="Liberation Sans, sans-serif" font-size="21.50" text-anchor="start" fill="#000" stroke="#000" stroke-width="0.35">0.005</text>
<line x1="224.93" y1="736.30" x2="266.88" y2="736.30" stroke="#0000ff" stroke-width="2.2" stroke-linecap="round" stroke-dasharray="1.2 8.93"/>
<text transform="translate(280.80,743.60) scale(1.110,1.000)" font-family="Liberation Serif, serif" font-size="20.50" text-anchor="start" fill="#000" stroke="#000" stroke-width="0.45">κ</text>
<text transform="translate(291.20,752.60) scale(1.000,1.060)" font-family="Liberation Sans, sans-serif" font-size="13.50" text-anchor="start" fill="#000" stroke="#000" stroke-width="0.50">s</text>
<text transform="translate(304.60,742.90) scale(1.000,0.900)" font-family="Liberation Sans, sans-serif" font-size="21.50" text-anchor="start" fill="#000" stroke="#000" stroke-width="0.35">=</text>
<text transform="translate(324.10,743.90) scale(1.000,1.060)" font-family="Liberation Sans, sans-serif" font-size="21.50" text-anchor="start" fill="#000" stroke="#000" stroke-width="0.35">0.0</text>
<path transform="translate(353.99,743.90) scale(0.01050,-0.01113)" d="M763 0H583V1147Q518 1085 412.5 1023T223 930V1104Q374 1175 487 1276T647 1472H763Z" fill="#000" stroke="#000" stroke-width="33.3"/>
<line x1="224.95" y1="771.20" x2="274.35" y2="771.20" stroke="#000000" stroke-width="2.3" stroke-linecap="round"/>
<text transform="translate(280.80,778.50) scale(1.110,1.000)" font-family="Liberation Serif, serif" font-size="20.50" text-anchor="start" fill="#000" stroke="#000" stroke-width="0.45">κ</text>
<text transform="translate(291.20,787.50) scale(1.000,1.060)" font-family="Liberation Sans, sans-serif" font-size="13.50" text-anchor="start" fill="#000" stroke="#000" stroke-width="0.50">s</text>
<text transform="translate(304.60,777.80) scale(1.000,0.900)" font-family="Liberation Sans, sans-serif" font-size="21.50" text-anchor="start" fill="#000" stroke="#000" stroke-width="0.35">=</text>
<text transform="translate(324.10,778.80) scale(1.000,1.060)" font-family="Liberation Sans, sans-serif" font-size="21.50" text-anchor="start" fill="#000" stroke="#000" stroke-width="0.35">0.02</text>
</svg>
</div></body></html>
